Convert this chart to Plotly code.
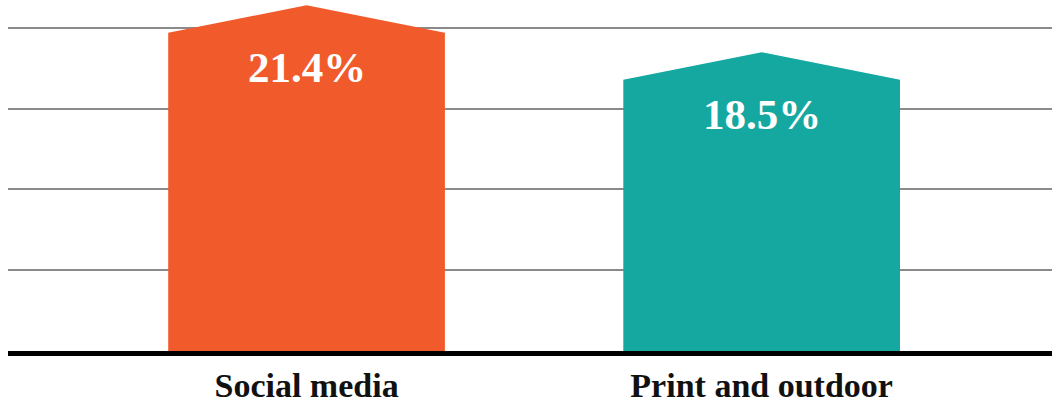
import plotly.graph_objects as go

categories = ["Social media", "Print and outdoor"]
values = [21.4, 18.5]
labels = ["21.4%", "18.5%"]
colors = ["#F15A2B", "#14A8A0"]
grid_vals = [5, 10, 15, 20]

ROOF = 1.7
HALF_W = 0.304

fig = go.Figure()
for i, (cat, v, c) in enumerate(zip(categories, values, colors)):
    xs = [i - HALF_W, i - HALF_W, i, i + HALF_W, i + HALF_W, i - HALF_W]
    ys = [0, v - ROOF, v, v - ROOF, 0, 0]
    fig.add_trace(go.Scatter(x=xs, y=ys, mode="lines", fill="toself",
                             fillcolor=c, line=dict(width=0, color=c),
                             hoverinfo="skip", showlegend=False))
    fig.add_annotation(x=i, y=v - ROOF, text=labels[i], showarrow=False,
                       yanchor="middle", yshift=-35,
                       font=dict(family="Liberation Serif", size=43,
                                 color="#FFFFFF", weight="bold"))

fig.update_layout(
    width=1052, height=403,
    margin=dict(l=8, r=0, t=0, b=52, autoexpand=False),
    paper_bgcolor="white", plot_bgcolor="white",
    showlegend=False,
    xaxis=dict(range=[-0.656, 1.638], tickvals=[0, 1], ticktext=categories,
               automargin=False,
               showgrid=False, zeroline=False, showline=True,
               linecolor="#000000", linewidth=5, ticks="",
               tickfont=dict(family="Liberation Serif", size=34,
                             color="#111111", weight="bold")),
    yaxis=dict(range=[0, 21.73], tickvals=grid_vals, showticklabels=False,
               automargin=False,
               showgrid=True, gridcolor="#8A8A8A", gridwidth=2,
               zeroline=False, showline=False),
)

fig.write_html("out.html",
               config={"displayModeBar": False},
               post_script="document.body.style.margin='0';document.body.style.overflow='hidden';")
